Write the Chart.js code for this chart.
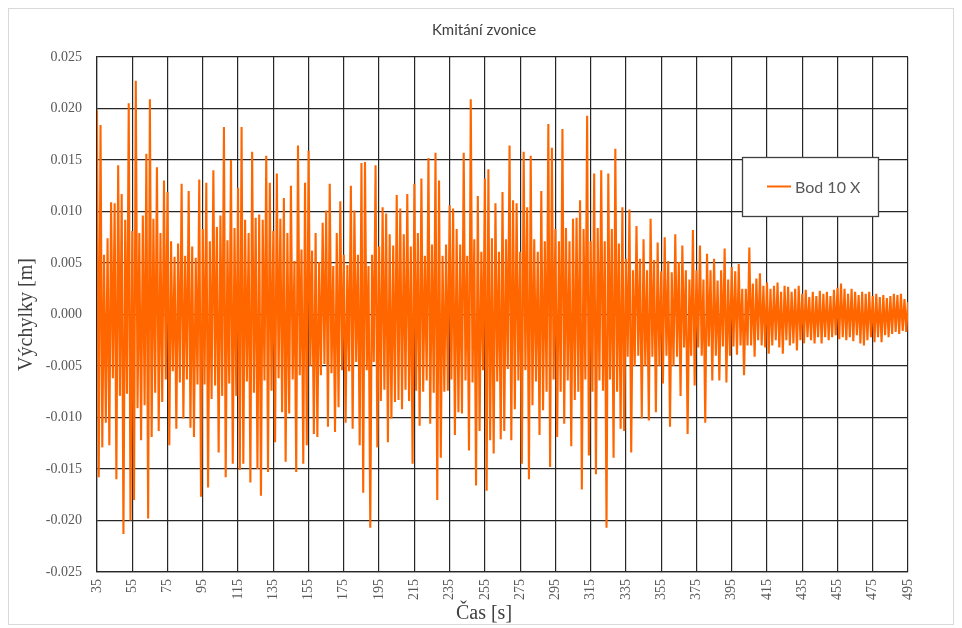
<!DOCTYPE html>
<html lang="cs">
<head>
<meta charset="utf-8">
<title>Kmitání zvonice</title>
<script src="https://cdn.jsdelivr.net/npm/chart.js@4.4.1/dist/chart.umd.min.js"></script>
<style>
  html, body { margin: 0; padding: 0; background: #ffffff; }
  #wrap { position: relative; width: 962px; height: 628px; }
</style>
</head>
<body>
<div id="wrap"><canvas id="graf"></canvas></div>
<script>
// Texty grafu
const nazevGrafu = 'Kmitání zvonice';
const nazevRady = 'Bod 10 X';
const popisOsyX = 'Čas [s]';
const popisOsyY = 'Výchylky [m]';

// Popisky os
const casTicks = [35, 55, 75, 95, 115, 135, 155, 175, 195, 215, 235, 255, 275, 295,
                  315, 335, 355, 375, 395, 415, 435, 455, 475, 495];
const vychylkaTicks = [-0.025, -0.020, -0.015, -0.010, -0.005, 0.000,
                       0.005, 0.010, 0.015, 0.020, 0.025];

// Záznam výchylky bodu 10 ve směru X [m], vzorkováno po 1 s
const krokCasu = 1;

const usek1Start = 35;   // 35 – 126 s
const usek1 = [
  .0198, -.0158, .0184, -.0129, .0058, -.0105, .0074, -.0127, .0109, -.0062,
  .0108, -.016, .0145, -.0079, .0117, -.0213, .0092, -.0077, .0205, -.020,
  .0081, -.018, .0227, -.0091, .0079, -.0122, .0096, -.0088, .0156, -.0198,
  .0209, -.0119, .0093, -.0076, .0143, -.0113, .0079, -.0085, .013, -.0063,
  .0119, -.0127, .0071, -.0055, .0056, -.0111, .0069, -.0066, .0127, -.0101,
  .0057, -.0063, .012, -.011, .0066, -.0119, .0055, -.0068, .0131, -.0177,
  .0083, -.0068, .0128, -.0168, .0071, -.0082, .014, -.0069, .0085, -.0134,
  .0096, -.0079, .0182, -.0158, .0072, -.0067, .015, -.0145, .0084, -.0079,
  .0123, -.0151, .0182, -.0145, .0092, -.0065, .0079, -.0163, .0158, -.0076,
  .0094, -.015
];

const usek2Start = 127;  // 127 – 218 s
const usek2 = [
  .0097, -.0176, .0092, -.0064, .0154, -.0153, .0128, -.0074, .0081, -.0124,
  .0137, -.0062, .0093, -.0095, .0113, -.0143, .0079, -.0096, .0125, -.0063,
  .0052, -.0153, .0164, -.0059, .0063, -.0145, .0128, -.0127, .0159, -.005,
  .0062, -.0116, .0079, -.0119, .0051, -.0059, .0089, -.0048, .0101, -.0109,
  .0127, -.0057, .0047, -.0114, .0079, -.009, .011, -.0054, .0058, -.0105,
  .0048, -.0055, .0125, -.0111, .0101, -.0046, .0058, -.0127, .0147, -.0173,
  .0148, -.0054, .0047, -.0207, .0058, -.0046, .0145, -.0129, .0066, -.0084,
  .0104, -.0073, .0098, -.0124, .0078, -.0101, .0067, -.0085, .0116, -.0083,
  .0103, -.0092, .0078, -.0073, .0117, -.0084, .0066, -.0145, .0127, -.0074,
  .0079, -.0108
];

const usek3Start = 219;  // 219 – 310 s
const usek3 = [
  .0132, -.0075, .0057, -.0064, .0152, -.0106, .0068, -.0076, .0157, -.018,
  .013, -.0139, .0057, -.0075, .0068, -.0074, .0106, -.0063, .0103, -.0117,
  .0083, -.0095, .0068, -.0096, .0157, -.0064, .0057, -.0132, .0209, -.0066,
  .0073, -.0166, .0115, -.0113, .0061, -.0054, .0132, -.0171, .0141, -.0122,
  .0074, -.0135, .0108, -.0065, .0061, -.0121, .0119, -.0113, .0073, -.0053,
  .0164, -.0122, .0111, -.0092, .0108, -.0064, .0061, -.0145, .0158, -.0054,
  .0104, -.016, .0154, -.0088, .0073, -.0065, .0061, -.0117, .012, -.0093,
  .0071, -.0075, .0185, -.0148, .0162, -.0063, .0083, -.0119, .0071, -.0075,
  .018, -.0106, .0084, -.0064, .0071, -.0128, .0093, -.0083, .0094, -.0075,
  .0111, -.017
];

const usek4Start = 311;  // 311 – 402 s
const usek4 = [
  .0083, -.0063, .0193, -.0137, .0071, -.0075, .0137, -.0155, .0084, -.0064,
  .014, -.0074, .0071, -.0207, .0137, -.0063, .0083, -.0139, .0161, -.0075,
  .0069, -.0111, .0104, -.0113, .0054, -.0041, .0102, -.0134, .0043, -.005,
  .0086, -.004, .0054, -.0101, .0073, -.005, .0043, -.0103, .0093, -.0041,
  .0053, -.0095, .007, -.005, .0042, -.0067, .0075, -.004, .0052, -.0109,
  .0041, -.005, .0078, -.0041, .0051, -.0079, .0067, -.0032, .0043, -.0116,
  .0034, -.004, .0082, -.0069, .0043, -.0032, .0067, -.004, .0034, -.0105,
  .0059, -.0031, .0043, -.0064, .0054, -.004, .0033, -.0064, .0043, -.0031,
  .0064, -.0066, .0034, -.004, .0046, -.0031, .0042, -.0039, .0049, -.003,
  .0025, -.0059
];

const usek5Start = 403;  // 403 – 495 s
const usek5 = [
  .0025, -.003, .0065, -.003, .003, -.0041, .0035, -.0025, .004, -.003,
  .0028, -.0032, .0031, -.0038, .0025, -.003, .0028, -.0025, .0031, -.0032,
  .0022, -.0038, .0028, -.0025, .0027, -.003, .0022, -.0028, .0025, -.0035,
  .0028, -.0025, .002, -.0028, .0024, -.0022, .0017, -.0025, .0022, -.0028,
  .0018, -.0022, .0023, -.0028, .002, -.0022, .0022, -.0025, .0018, -.0022,
  .0024, -.002, .0026, -.0024, .003, -.0022, .0025, -.0025, .002, -.0022,
  .0025, -.0026, .0022, -.002, .0019, -.0028, .0022, -.003, .002, -.0025,
  .0022, -.0022, .0018, -.0027, .002, -.0022, .0017, -.0027, .0019, -.002,
  .0016, -.0022, .0018, -.0019, .002, -.0017, .0019, -.0019, .002, -.0016,
  .0015, -.0017, .0012
];

const barvaRady = '#ff6600';

// Body časové řady (čas, výchylka)
const useky = [
  [usek1Start, usek1], [usek2Start, usek2], [usek3Start, usek3],
  [usek4Start, usek4], [usek5Start, usek5]
];
const body = [];
for (const [start, hodnoty] of useky) {
  hodnoty.forEach((v, i) => body.push({ x: start + i * krokCasu, y: v }));
}

const seriF = '"Liberation Serif", "Times New Roman", serif';
const sansF = 'Lato, "Open Sans", sans-serif';

// Bílé pozadí, rámeček kolem celého grafu a nadpis
const ramecek = {
  id: 'ramecek',
  beforeDraw(chart) {
    const { ctx, width, height } = chart;
    ctx.save();
    ctx.fillStyle = '#ffffff';
    ctx.fillRect(0, 0, width, height);
    ctx.strokeStyle = '#d9d9d9';
    ctx.lineWidth = 1;
    ctx.strokeRect(8.5, 8.5, width - 17, height - 12);
    ctx.fillStyle = '#404040';
    ctx.font = '15px ' + sansF;
    ctx.textAlign = 'center';
    ctx.textBaseline = 'middle';
    ctx.fillText(nazevGrafu, width / 2 + 3, 30);
    ctx.restore();
  }
};

// Popis vodorovné osy, vystředěný na šířku celého grafu
const popisCasu = {
  id: 'popisCasu',
  afterDraw(chart) {
    const { ctx, width } = chart;
    ctx.save();
    ctx.fillStyle = '#404040';
    ctx.font = '20px ' + seriF;
    ctx.textAlign = 'center';
    ctx.textBaseline = 'middle';
    ctx.fillText(popisOsyX, width / 2 + 3, 614);
    ctx.restore();
  }
};

// Legenda v rámečku uvnitř plochy grafu
const legendaVRamecku = {
  id: 'legendaVRamecku',
  afterDatasetsDraw(chart) {
    const { ctx } = chart;
    const ds = chart.data.datasets[0];
    const x = 742, y = 157, w = 136, h = 59;
    ctx.save();
    ctx.fillStyle = '#ffffff';
    ctx.fillRect(x, y, w, h);
    ctx.strokeStyle = '#404040';
    ctx.lineWidth = 1.3;
    ctx.strokeRect(x + 0.5, y + 0.5, w, h);
    const cy = y + h / 2;
    ctx.strokeStyle = ds.borderColor;
    ctx.lineWidth = 2;
    ctx.beginPath();
    ctx.moveTo(x + 25, cy);
    ctx.lineTo(x + 49, cy);
    ctx.stroke();
    ctx.fillStyle = '#595959';
    ctx.font = '16px ' + sansF;
    ctx.textAlign = 'left';
    ctx.textBaseline = 'middle';
    ctx.fillText(ds.label, x + 53, cy + 1);
    ctx.restore();
  }
};

const mrizka = { color: '#262626', lineWidth: 1.2, drawTicks: false };

new Chart(document.getElementById('graf'), {
  type: 'line',
  data: {
    datasets: [{
      label: nazevRady,
      data: body,
      borderColor: barvaRady,
      backgroundColor: barvaRady,
      borderWidth: 2.1,
      pointRadius: 0,
      tension: 0,
      fill: false
    }]
  },
  options: {
    responsive: true,
    maintainAspectRatio: false,
    animation: false,
    parsing: false,
    normalized: true,
    layout: { padding: { top: 57, left: 0, right: 54, bottom: 0 } },
    plugins: {
      legend: { display: false },
      tooltip: { enabled: false },
      title: { display: false }
    },
    scales: {
      x: {
        type: 'linear',
        min: casTicks[0],
        max: casTicks[casTicks.length - 1],
        afterBuildTicks(s) { s.ticks = casTicks.map(v => ({ value: v })); },
        afterFit(s) {
          s.height = 56;
          s.paddingLeft = 0; s.paddingRight = 0; s.paddingTop = 0; s.paddingBottom = 0;
        },
        ticks: {
          autoSkip: false,
          minRotation: 90,
          maxRotation: 90,
          padding: 7,
          color: '#595959',
          font: { family: seriF, size: 14 },
          callback: v => String(v)
        },
        grid: mrizka,
        border: { color: '#262626', width: 1.2 },
        title: { display: false }
      },
      y: {
        type: 'linear',
        min: vychylkaTicks[0],
        max: vychylkaTicks[vychylkaTicks.length - 1],
        afterBuildTicks(s) { s.ticks = vychylkaTicks.map(v => ({ value: v })); },
        afterFit(s) {
          s.width = 97;
          s.paddingLeft = 0; s.paddingRight = 0; s.paddingTop = 0; s.paddingBottom = 0;
        },
        ticks: {
          padding: 15,
          color: '#595959',
          font: { family: seriF, size: 14 },
          callback: v => (Math.abs(v) < 1e-9 ? 0 : v).toFixed(3)
        },
        grid: mrizka,
        border: { color: '#262626', width: 1.2 },
        title: {
          display: true,
          text: popisOsyY,
          color: '#404040',
          font: { family: seriF, size: 20, lineHeight: 1.2 },
          padding: { top: 15, bottom: 0 }
        }
      }
    }
  },
  plugins: [ramecek, popisCasu, legendaVRamecku]
});
</script>
</body>
</html>
